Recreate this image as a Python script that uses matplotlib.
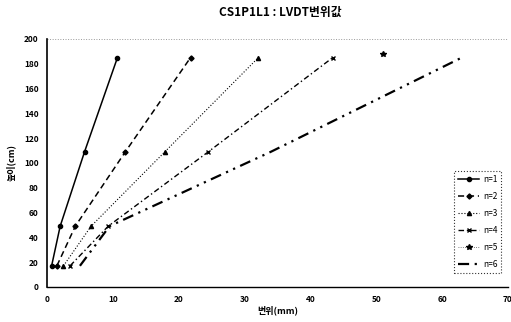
import numpy as np
import matplotlib
matplotlib.use("Agg")
import matplotlib.pyplot as plt

plt.rcParams['font.family'] = ['Noto Sans CJK KR', 'DejaVu Sans']

heights = [17, 49, 109, 185]
n1 = [0.7, 2.0, 5.7, 10.7]
n2 = [1.5, 4.3, 11.9, 21.8]
n3 = [2.5, 6.7, 17.9, 32.1]
n4 = [3.5, 9.3, 24.5, 43.4]
n5 = [np.nan, np.nan, np.nan, 51.0]
n5_h = [17, 49, 109, 188]
n6 = [5.0, 9.5, 34.0, 63.0]

fig = plt.figure(figsize=(5.11, 3.22), dpi=100)
ax = fig.add_axes([0.092, 0.109, 0.902, 0.77])

ax.plot(n1, heights, '-', color='black', lw=1.1, marker='o', ms=3, label='n=1')
ax.plot(n2, heights, '--', color='black', lw=1.1, marker='D', ms=2.6, dashes=(4, 2.5), label='n=2')
ax.plot(n3, heights, ':', color='black', lw=0.8, marker='^', ms=3, label='n=3')
ax.plot(n4, heights, '-.', color='black', lw=1.0, marker='x', ms=2.6, dashes=(4, 2, 1, 2), label='n=4')
ax.plot(n5, n5_h, ':', color='#555555', lw=0.6, marker='*', ms=4, mfc='black', mec='black', label='n=5')
ax.plot(n6, heights, '-', color='black', lw=1.6, dashes=(5, 2.5, 1, 2.5, 1, 2.5), label='n=6')

ax.set_xlim(0, 70)
ax.set_ylim(0, 200)
ax.set_xticks(range(0, 71, 10))
ax.set_yticks(range(0, 201, 20))
ax.tick_params(labelsize=6, length=0, pad=6)
for lab in ax.get_xticklabels() + ax.get_yticklabels():
    lab.set_fontweight('bold')

ax.spines['right'].set_visible(False)
ax.spines['top'].set_visible(False)
ax.spines['left'].set_linewidth(1.2)
ax.spines['bottom'].set_linewidth(1.0)
ax.axhline(200, color='#999999', lw=0.7, ls=':')

ax.set_xlabel('변위(mm)', fontsize=6.5, fontweight='bold', labelpad=1)
ax.set_ylabel('높이(cm)', fontsize=6.5, fontweight='bold', labelpad=6)
fig.text(0.548, 0.96, 'CS1P1L1 : LVDT변위값', fontsize=8.5, fontweight='bold',
         ha='center', va='center')

leg = ax.legend(loc='lower right', bbox_to_anchor=(0.995, 0.04), fontsize=6,
                frameon=True, fancybox=False, edgecolor='black', handlelength=2.6,
                labelspacing=0.95, borderpad=0.5, handletextpad=0.4)
leg.get_frame().set_linestyle(':')
leg.get_frame().set_linewidth(0.8)

fig.savefig('out.png', dpi=100)
